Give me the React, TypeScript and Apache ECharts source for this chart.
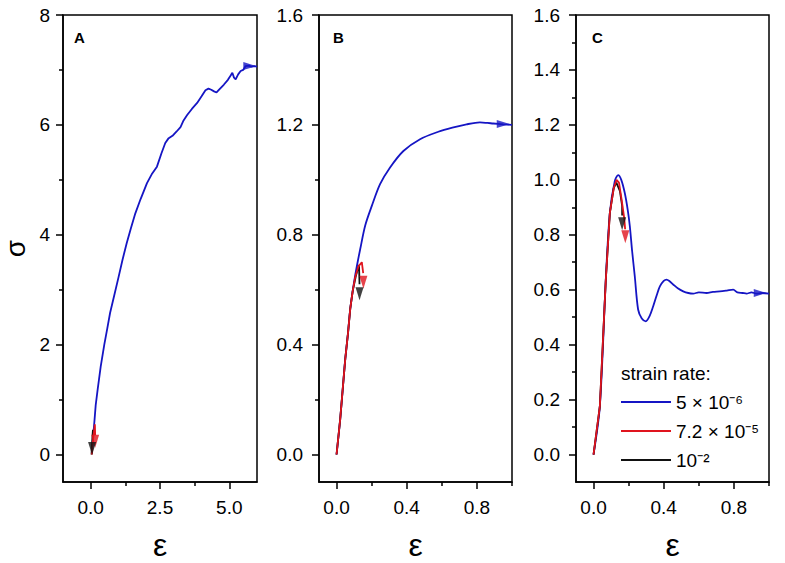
import React, { useEffect, useRef } from "react";
import * as echarts from "echarts";

// ---------- data ----------
const blueA: number[][] = [
  [0.05, 0.1], [0.09, 0.35], [0.13, 0.58], [0.18, 0.9], [0.25, 1.18], [0.36, 1.6], [0.49, 2.0],
  [0.6, 2.3], [0.7, 2.58], [0.85, 2.9], [1.0, 3.22], [1.15, 3.55], [1.3, 3.85], [1.45, 4.12],
  [1.61, 4.39], [1.8, 4.65], [2.03, 4.94], [2.2, 5.1], [2.39, 5.24], [2.55, 5.48], [2.69, 5.67],
  [2.8, 5.75], [2.95, 5.8], [3.1, 5.88], [3.24, 5.96], [3.35, 6.08], [3.48, 6.18], [3.65, 6.29],
  [3.84, 6.4], [4.0, 6.52], [4.14, 6.63], [4.25, 6.66], [4.35, 6.64], [4.45, 6.61], [4.54, 6.59],
  [4.65, 6.65], [4.8, 6.73], [4.95, 6.82], [5.05, 6.9], [5.11, 6.95], [5.17, 6.86], [5.23, 6.83],
  [5.32, 6.92], [5.41, 6.98], [5.5, 7.0], [5.59, 7.07], [5.7, 7.08], [5.8, 7.06], [5.9, 7.07], [6.0, 7.06],
];
const redA: number[][] = [[0.04, 0.0], [0.09, 0.3], [0.15, 0.55], [0.16, 0.35]];
const blackA: number[][] = [[0.03, 0.0], [0.06, 0.3], [0.08, 0.45], [0.05, 0.2]];

const blueB: number[][] = [
  [0, 0], [0.021, 0.13], [0.04, 0.275], [0.05, 0.35], [0.065, 0.44], [0.078, 0.53], [0.092, 0.595],
  [0.106, 0.651], [0.12, 0.7], [0.135, 0.748], [0.163, 0.833], [0.201, 0.905], [0.248, 0.984],
  [0.305, 1.045], [0.381, 1.105], [0.476, 1.148], [0.58, 1.175], [0.66, 1.19], [0.741, 1.202],
  [0.817, 1.209], [0.86, 1.207], [0.893, 1.205], [0.95, 1.202], [1.0, 1.2],
];
const redB: number[][] = [
  [0, 0], [0.021, 0.13], [0.04, 0.275], [0.05, 0.35], [0.065, 0.44], [0.078, 0.53], [0.092, 0.595],
  [0.106, 0.645], [0.125, 0.685], [0.144, 0.7], [0.152, 0.66],
];
const blackB: number[][] = [
  [0, 0], [0.021, 0.13], [0.04, 0.275], [0.05, 0.35], [0.065, 0.44], [0.078, 0.53], [0.092, 0.595],
  [0.11, 0.65], [0.128, 0.69], [0.131, 0.62],
];

const blueC: number[][] = [
  [0, 0], [0.036, 0.176], [0.07, 0.64], [0.093, 0.88], [0.121, 0.995], [0.14, 1.017], [0.158, 1.0],
  [0.178, 0.952], [0.195, 0.89], [0.207, 0.83], [0.22, 0.74], [0.235, 0.649], [0.254, 0.528],
  [0.275, 0.495], [0.298, 0.485], [0.32, 0.505], [0.34, 0.54], [0.36, 0.58], [0.378, 0.612],
  [0.4, 0.632], [0.416, 0.637], [0.435, 0.63], [0.454, 0.619], [0.48, 0.605], [0.511, 0.594],
  [0.54, 0.588], [0.568, 0.586], [0.6, 0.59], [0.644, 0.588], [0.68, 0.592], [0.72, 0.594],
  [0.76, 0.597], [0.796, 0.6], [0.82, 0.59], [0.85, 0.588], [0.872, 0.586], [0.9, 0.59],
  [0.93, 0.586], [0.96, 0.588], [1.0, 0.586],
];
const redC: number[][] = [
  [0, 0], [0.036, 0.176], [0.07, 0.637], [0.093, 0.88], [0.115, 0.97], [0.131, 1.0], [0.145, 0.99],
  [0.16, 0.928], [0.175, 0.86], [0.18, 0.82],
];
const blackC: number[][] = [
  [0, 0], [0.036, 0.176], [0.07, 0.637], [0.093, 0.88], [0.115, 0.97], [0.13, 0.99], [0.15, 0.96],
  [0.163, 0.905], [0.163, 0.87],
];

// arrow heads: [x, y, rotation]
const arrowsBlue: number[][][] = [[[5.74, 7.07, -90]], [[0.95, 1.203, -90]], [[0.95, 0.588, -90]]];
const arrowsRed: number[][][] = [[[0.16, 0.24, 180]], [[0.153, 0.627, 180]], [[0.181, 0.793, 180]]];
const arrowsBlack: number[][][] = [[[0.05, 0.11, 180]], [[0.131, 0.585, 180]], [[0.163, 0.84, 180]]];

const seriesNames = ["5 × 10⁻⁶", "7.2 × 10⁻⁵", "10⁻²"];
const panelLetters = ["A", "B", "C"];

const xMajorA = [0, 2.5, 5];
const xMinorA = [1.25, 3.75];
const yMajorA = [0, 2, 4, 6, 8];
const yMinorA = [1, 3, 5, 7];
const xMajorBC = [0, 0.4, 0.8];
const xMinorBC = [0.2, 0.6, 1.0];
const yMajorB = [0, 0.4, 0.8, 1.2, 1.6];
const yMinorB = [0.2, 0.6, 1.0, 1.4];
const yMajorC = [0, 0.2, 0.4, 0.6, 0.8, 1.0, 1.2, 1.4, 1.6];
const yMinorC = [0.1, 0.3, 0.5, 0.7, 0.9, 1.1, 1.3, 1.5];

const FONT = "'Liberation Sans', Arial, Helvetica, sans-serif";
const BLUE = "#1515c4";
const RED = "#e0141e";
const BLACK = "#111111";

function axisPair(
  kind: "x" | "y",
  gridIndex: number,
  min: number,
  max: number,
  majors: number[],
  minors: number[],
  fmt: (v: number) => string,
  margin: number,
  name?: string,
  nameGap?: number,
  nameSize?: number
) {
  const main: any = {
    type: "value",
    gridIndex,
    min,
    max,
    position: kind === "x" ? "bottom" : "left",
    axisLine: { show: true, onZero: false, lineStyle: { color: "#000", width: 1.5 } },
    axisTick: { show: true, inside: false, length: 7, customValues: majors, lineStyle: { color: "#000", width: 1.5 } },
    axisLabel: {
      show: true,
      customValues: majors,
      formatter: (v: number) => fmt(v),
      margin,
      color: "#000",
      fontSize: 19,
      fontFamily: FONT,
    },
    splitLine: { show: false },
    minorTick: { show: false },
  };
  if (name) {
    main.name = name;
    main.nameLocation = "middle";
    main.nameGap = nameGap;
    main.nameTextStyle = { fontSize: nameSize, color: "#000", fontFamily: FONT };
  }
  const minor: any = {
    type: "value",
    gridIndex,
    min,
    max,
    position: kind === "x" ? "bottom" : "left",
    axisLine: { show: false, onZero: false },
    axisTick: { show: true, inside: false, length: 4, customValues: minors, lineStyle: { color: "#000", width: 1.5 } },
    axisLabel: { show: false },
    splitLine: { show: false },
  };
  return [main, minor];
}

export default function App() {
  const ref = useRef<HTMLDivElement>(null);
  useEffect(() => {
    if (!ref.current) return;
    const chart = echarts.init(ref.current, null, { renderer: "svg" });
    const f1 = (v: number) => v.toFixed(1);
    const f0 = (v: number) => String(v);

    const grids = [
      { left: 63, top: 15, width: 194, height: 467 },
      { left: 319, top: 15, width: 193, height: 467 },
      { left: 576, top: 15, width: 193, height: 467 },
    ].map((g) => ({
      ...g,
      show: true,
      containLabel: false,
      outerBoundsMode: "none",
      borderColor: "#000",
      borderWidth: 1.5,
      backgroundColor: "#fff",
    }));

    const xAxes = [
      ...axisPair("x", 0, -1, 6, xMajorA, xMinorA, f1, 16, "ε", 47, 32),
      ...axisPair("x", 1, -0.1, 1.0, xMajorBC, xMinorBC, f1, 16, "ε", 47, 32),
      ...axisPair("x", 2, -0.1, 1.0, xMajorBC, xMinorBC, f1, 16, "ε", 47, 32),
    ];
    const yAxes = [
      ...axisPair("y", 0, -0.5, 8, yMajorA, yMinorA, f0, 13, "σ", 34, 28),
      ...axisPair("y", 1, -0.1, 1.6, yMajorB, yMinorB, f1, 16),
      ...axisPair("y", 2, -0.1, 1.6, yMajorC, yMinorC, f1, 16),
    ];

    const lineData = [
      [blueA, redA, blackA],
      [blueB, redB, blackB],
      [blueC, redC, blackC],
    ];
    const colors = [BLUE, RED, BLACK];
    const lineZ = [2, 4, 3];
    const arrows = [arrowsBlue, arrowsRed, arrowsBlack];
    const series: any[] = [];
    for (let p = 0; p < 3; p++) {
      for (let s = 0; s < 3; s++) {
        series.push({
          type: "line",
          name: seriesNames[s],
          xAxisIndex: p * 2,
          yAxisIndex: p * 2,
          data: lineData[p][s],
          symbol: "none",
          showSymbol: false,
          smooth: s === 0 && p > 0 ? 0.3 : false,
          lineStyle: { color: colors[s], width: 1.8 },
          itemStyle: { color: colors[s] },
          z: lineZ[s],
        });
      }
    }
    for (let p = 0; p < 3; p++) {
      for (let s = 0; s < 3; s++) {
        series.push({
          type: "scatter",
          name: "arrow-" + p + "-" + s,
          xAxisIndex: p * 2,
          yAxisIndex: p * 2,
          symbol: "triangle",
          symbolSize: [8, 13],
          data: arrows[s][p].map((a) => ({
            value: [a[0], a[1]],
            symbolRotate: a[2],
          })),
          itemStyle: { color: colors[s] },
          z: 6,
          silent: true,
        });
      }
    }

    chart.setOption({
      animation: false,
      backgroundColor: "#fff",
      grid: grids,
      xAxis: xAxes,
      yAxis: yAxes,
      series,
      legend: {
        data: seriesNames.map((n) => ({ name: n, icon: "rect" })),
        orient: "vertical",
        left: 621,
        top: 392,
        padding: 0,
        itemWidth: 50,
        itemHeight: 2,
        itemGap: 9,
        textStyle: { fontSize: 19, color: "#000", fontFamily: FONT, lineHeight: 20 },
        selectedMode: false,
      },
      graphic: [
        ...panelLetters.map((t, i) => ({
          type: "text",
          left: [74, 333, 592][i],
          top: 30,
          style: { text: t, fontSize: 15, fontWeight: "bold", fill: "#000", fontFamily: FONT },
        })),
        {
          type: "text",
          left: 621,
          top: 364,
          style: { text: "strain rate:", fontSize: 19, fill: "#000", fontFamily: FONT },
        },
      ],
    });
    return () => chart.dispose();
  }, []);
  return (
    <div
      ref={ref}
      style={{ position: "fixed", left: 0, top: 0, width: 785, height: 563, background: "#fff" }}
    />
  );
}
